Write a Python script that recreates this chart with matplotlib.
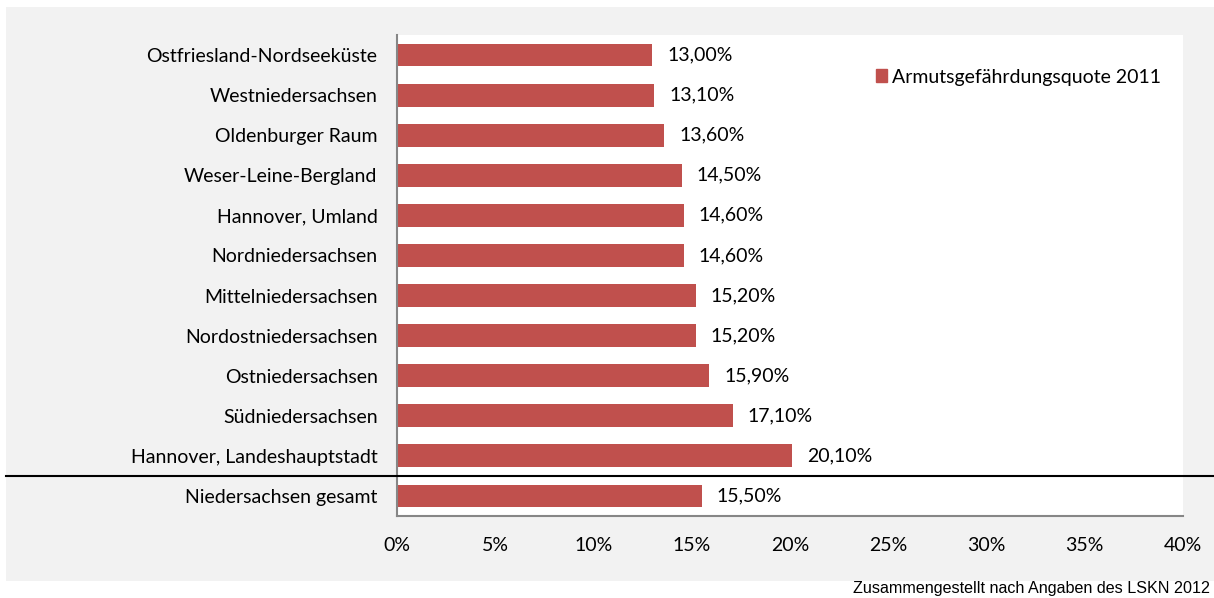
import matplotlib.pyplot as plt
from matplotlib.patches import Rectangle, Patch
from matplotlib.transforms import blended_transform_factory

regions = ['Ostfriesland-Nordseeküste', 'Westniedersachsen', 'Oldenburger Raum',
           'Weser-Leine-Bergland', 'Hannover, Umland', 'Nordniedersachsen',
           'Mittelniedersachsen', 'Nordostniedersachsen', 'Ostniedersachsen',
           'Südniedersachsen', 'Hannover, Landeshauptstadt', 'Niedersachsen gesamt']
quote = [13.0, 13.1, 13.6, 14.5, 14.6, 14.6, 15.2, 15.2, 15.9, 17.1, 20.1, 15.5]
xticks = [0, 5, 10, 15, 20, 25, 30, 35, 40]
series_name = 'Armutsgefährdungsquote 2011'
source = 'Zusammengestellt nach Angaben des LSKN 2012'

bar_col = '#C0504D'
W, H = 1214, 598
fs = 14
plt.rcParams['font.family'] = ['Lato', 'DejaVu Sans']

fig = plt.figure(figsize=(W / 100, H / 100), dpi=100)
fig.patch.set_facecolor('white')
# grey chart area behind the plot
fig.patches.append(Rectangle((6 / W, 1 - 581 / H), 1 - 6 / W, (581 - 7) / H,
                             transform=fig.transFigure, facecolor='#F2F2F2',
                             edgecolor='none', zorder=-1))

ax = fig.add_axes([397 / W, 1 - 516 / H, (1183 - 397) / W, (516 - 35) / H])
ax.set_facecolor('white')

pos = list(range(len(regions)))
ax.barh(pos, quote, height=0.57, color=bar_col, zorder=2)
for p, v in zip(pos, quote):
    ax.text(v + 0.75, p, f'{v:.2f}%'.replace('.', ','), va='center', ha='left',
            fontsize=fs, color='black')

ax.set_xlim(0, 40)
ax.set_ylim(len(regions) - 0.5, -0.5)
ax.set_yticks(pos)
ax.set_yticklabels(regions, fontsize=fs)
ax.set_xticks(xticks)
ax.set_xticklabels([f'{t}%' for t in xticks], fontsize=fs)
ax.tick_params(axis='both', length=0)
ax.tick_params(axis='y', pad=14)
ax.tick_params(axis='x', pad=15)
for s in ['top', 'right']:
    ax.spines[s].set_visible(False)
for s in ['left', 'bottom']:
    ax.spines[s].set_color('#868686')
    ax.spines[s].set_linewidth(1.5)

# separator above the state total
tr = blended_transform_factory(fig.transFigure, ax.transData)
ax.plot([6 / W, 1], [10.5, 10.5], color='black', lw=1.5, transform=tr,
        clip_on=False, zorder=5)

ax.legend(handles=[Patch(color=bar_col, label=series_name)],
          loc='center left', bbox_to_anchor=(858 / W, 1 - 77 / H),
          bbox_transform=fig.transFigure, frameon=False, fontsize=14,
          handlelength=0.6, handleheight=0.6, handletextpad=0.25)

fig.text(1210 / W, 1 - 589 / H, source, ha='right', va='center',
         fontsize=11.6, family='Liberation Sans')

fig.savefig('out.png', dpi=100)
